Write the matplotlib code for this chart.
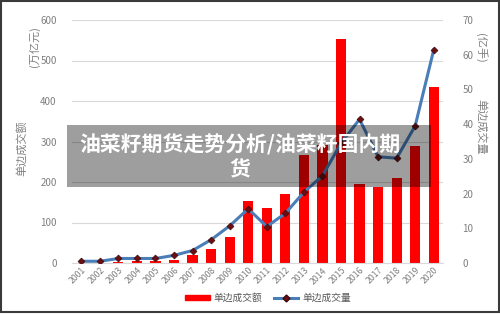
import matplotlib
matplotlib.use("Agg")
import matplotlib.pyplot as plt
from matplotlib.patches import Rectangle
from matplotlib.lines import Line2D
import numpy as np

plt.rcParams['font.family'] = ['Noto Sans CJK SC', 'DejaVu Sans']

years = [str(y) for y in range(2001, 2021)]
turnover = [1, 1, 3, 4, 4, 8, 20, 35, 64, 154, 137, 170, 266, 291, 552, 194, 187, 209, 289, 435]
volume = [0.5, 0.5, 1.3, 1.3, 1.3, 2.2, 3.6, 6.7, 10.7, 15.6, 10.5, 14.3, 20.4, 25.1, 34.5, 41.4, 30.6, 30.2, 39.5, 61.4]
left_ticks = [0, 100, 200, 300, 400, 500, 600]
right_ticks = [0, 10, 20, 30, 40, 50, 60, 70]
title = "油菜籽期货走势分析/油菜籽国内期\n货"

W, H = 500, 314
fig = plt.figure(figsize=(W / 100, H / 100), dpi=100)
ax = fig.add_axes([72 / W, 1 - 263 / H, 371 / W, 243 / H])
ax2 = ax.twinx()

x = np.arange(len(years))
ax.bar(x, turnover, width=0.55, color='#ff0000', zorder=2)
ax.set_xlim(-0.5, len(years) - 0.5)
ax.set_ylim(0, 600)
ax.set_yticks(left_ticks)
ax.grid(axis='y', color='#d9d9d9', linewidth=0.8, zorder=0)
ax.set_axisbelow(True)
for s in ['top', 'right', 'left']:
    ax.spines[s].set_visible(False)
ax.spines['bottom'].set_color('#d9d9d9')
ax.tick_params(axis='y', length=0, labelsize=7, labelcolor='#7f7f7f', pad=11)
ax.tick_params(axis='x', length=0, labelsize=6.3, labelcolor='#7f7f7f', pad=2)
ax.set_xticks(x)
ax.set_xticklabels(years, rotation=45, ha='right', rotation_mode='anchor')

ax2.plot(x, volume, color='#4a7eb8', linewidth=2.2, marker='D', markersize=3.5,
         markerfacecolor='#6b0f12', markeredgecolor='#3d0a0a', markeredgewidth=0.5, zorder=3)
ax2.set_ylim(0, 70)
ax2.set_yticks(right_ticks)
for s in ['top', 'right', 'left', 'bottom']:
    ax2.spines[s].set_visible(False)
ax2.tick_params(axis='y', length=0, labelsize=7, labelcolor='#7f7f7f', pad=14)

# axis titles
fig.text(22 / W, 1 - 148 / H, "单边成交额", rotation=90, ha='center', va='center', fontsize=8, color='#7f7f7f')
fig.text(34 / W, 1 - 47 / H, "(万亿元)", rotation=90, ha='center', va='center', fontsize=8, color='#7f7f7f')
fig.text(481 / W, 1 - 48 / H, "(亿手)", rotation=270, ha='center', va='center', fontsize=8, color='#7f7f7f')
fig.text(481 / W, 1 - 127 / H, "单边成交量", rotation=270, ha='center', va='center', fontsize=8, color='#7f7f7f')

# legend
handles = [Rectangle((0, 0), 1, 1, color='#ff0000'),
           Line2D([0], [0], color='#4a7eb8', linewidth=2.2, marker='D', markersize=3.5,
                  markerfacecolor='#6b0f12', markeredgecolor='#3d0a0a')]
fig.legend(handles, ["单边成交额", "单边成交量"], loc='center', bbox_to_anchor=(268 / W, 1 - 298 / H),
           ncol=2, frameon=False, fontsize=7, labelcolor='#595959', handlelength=2.5,
           handleheight=0.5, columnspacing=1.2, handletextpad=0.4)

# overlay band with title
fig.patches.append(Rectangle((67 / W, 1 - 187 / H), (431 - 67) / W, (187 - 125) / H,
                             transform=fig.transFigure, facecolor='black', alpha=0.38,
                             edgecolor='none', zorder=10))
fig.text(240 / W, 1 - 157 / H, title, ha='center', va='center', fontsize=15,
         fontweight='bold', color='white', linespacing=1.25, zorder=11)

# frame
fig.patches.append(Rectangle((0.5 / W, 2 / H), (W - 1.5) / W, (H - 2.8) / H, transform=fig.transFigure,
                             facecolor='none', edgecolor='#3a3a3a', linewidth=1.5, zorder=12))

fig.savefig('out.png', dpi=100)
